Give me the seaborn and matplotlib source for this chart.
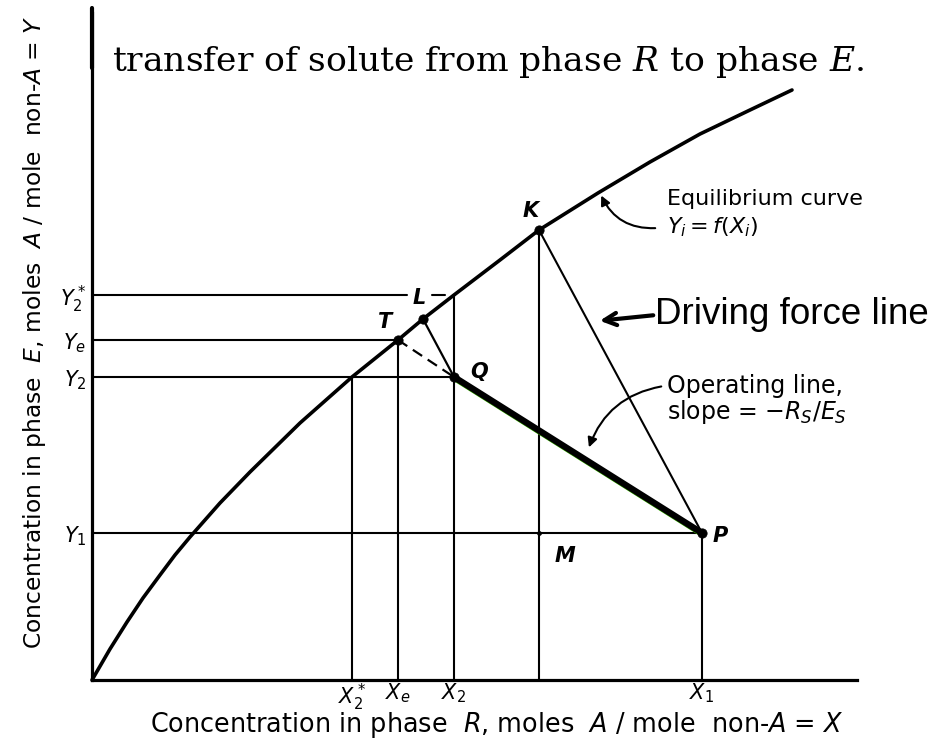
import matplotlib
matplotlib.use("Agg")
import matplotlib.pyplot as plt
import matplotlib.transforms as mtransforms
import seaborn as sns

# Equilibrium curve Y_i = f(X_i)
eq_x = [0.00, 0.18, 0.35, 0.51, 0.68, 0.83, 0.98, 1.28, 1.58, 2.08, 2.60,
        3.06, 3.31, 3.62, 4.08, 4.47, 5.06, 5.58, 6.08, 6.58, 7.00]
eq_y = [0.00, 0.31, 0.58, 0.82, 1.05, 1.25, 1.43, 1.77, 2.08, 2.57, 3.03,
        3.40, 3.61, 3.85, 4.20, 4.50, 4.87, 5.18, 5.46, 5.70, 5.90]

# Concentrations marked on the axes
x_ticks = [2.60, 3.06, 3.62, 6.10]
x_tick_labels = [r"$X_2^*$", r"$X_e$", r"$X_2$", r"$X_1$"]
y_ticks = [3.85, 3.40, 3.03, 1.47]
y_tick_labels = [r"$Y_2^*$", r"$Y_e$", r"$Y_2$", r"$Y_1$"]

# Named points of the construction
point_names = ["T", "L", "Q", "K", "P", "M"]
point_x = [3.06, 3.31, 3.62, 4.47, 6.10, 4.47]
point_y = [3.40, 3.61, 3.03, 4.50, 1.47, 1.47]

sns.set_theme(style="white")
plt.rcParams["font.family"] = ["DejaVu Sans"]
plt.rcParams["mathtext.fontset"] = "custom"
plt.rcParams["mathtext.rm"] = "DejaVu Sans"
plt.rcParams["mathtext.it"] = "DejaVu Sans:italic"
plt.rcParams["mathtext.cal"] = "DejaVu Serif:italic"

W, H = 953, 755
fig = plt.figure(figsize=(W / 100, H / 100), dpi=100)
x0, y0, x_end, y_top = 92, 680, 857, 13
ax = fig.add_axes([x0 / W, (H - y0) / H, (x_end - x0) / W, (y0 - y_top) / H])
ax.set_xlim(0, (x_end - x0) / 100)
ax.set_ylim(0, (y0 - y_top) / 100)
sns.despine(ax=ax)
for s in ("left", "bottom"):
    ax.spines[s].set_linewidth(2.3)
    ax.spines[s].set_color("black")
ax.set_facecolor("white")

P = dict(zip(point_names, zip(point_x, point_y)))
xs2, xe, x2, x1 = x_ticks
ys2, ye, y2, y1 = y_ticks
xk, yk = P["K"]


def seg(xa, ya, xb, yb, lw=1.5, **kw):
    sns.lineplot(x=[xa, xb], y=[ya, yb], ax=ax, color="black", lw=lw,
                 sort=False, estimator=None, clip_on=False, **kw)


# equilibrium curve
sns.lineplot(x=eq_x, y=eq_y, ax=ax, color="black", lw=2.6, sort=False,
             estimator=None, clip_on=False, solid_joinstyle="round")

# horizontal construction lines
seg(0, ys2, 3.15, ys2)
seg(3.40, ys2, 3.53, ys2)
seg(0, ye, xe, ye)
seg(0, y2, x2, y2)
seg(0, y1, x1, y1)
# vertical construction lines
seg(xs2, 0, xs2, y2)
seg(xe, 0, xe, ye)
seg(x2, 0, x2, ys2)
seg(xk, 0, xk, yk)
seg(x1, 0, x1, y1)

# T-Q dashed, L-Q, driving force line K-P
seg(*P["T"], *P["Q"], lw=1.6, linestyle=(0, (5, 3)))
seg(*P["L"], *P["Q"], lw=1.6)
seg(*P["K"], *P["P"], lw=1.5)

# operating line Q-P
shift = mtransforms.offset_copy(ax.transData, fig=fig, x=-0.5, y=-1.6, units="dots")
ax.plot([P["Q"][0], P["P"][0]], [P["Q"][1], P["P"][1]], color="#38b000", lw=3.0,
        transform=shift, solid_capstyle="butt")
seg(*P["Q"], *P["P"], lw=4.6)

# points
sns.scatterplot(x=point_x[:5], y=point_y[:5], ax=ax, color="black", s=45,
                edgecolor="black", clip_on=False, zorder=5)
sns.scatterplot(x=point_x[5:], y=point_y[5:], ax=ax, color="black", s=10,
                edgecolor="black", clip_on=False, zorder=5)

# tick labels
ax.set_xticks(x_ticks, x_tick_labels)
ax.set_yticks(y_ticks, y_tick_labels)
ax.tick_params(axis="both", length=0, labelsize=15, colors="black")
ax.tick_params(axis="x", pad=1)
ax.tick_params(axis="y", pad=4)


def px(xp, yp):
    return ((xp - x0) / 100, (y0 - yp) / 100)


lab = dict(fontsize=15, fontstyle="italic", fontweight="bold", color="black",
           va="center", ha="center")
label_pos = {"T": (385, 322), "L": (419, 298), "Q": (479, 372),
             "K": (531, 211), "P": (720, 536), "M": (565, 556)}
for name in point_names:
    ax.text(*px(*label_pos[name]), name, **lab)

# axis titles
fig.text(497 / W, 1 - 725 / H,
         r"Concentration in phase  $R$, moles  $A$ / mole  non-$A$ = $X$",
         fontsize=18.4, ha="center", va="center", color="black")
fig.text(35 / W, 1 - 332 / H,
         r"Concentration in phase  $E$, moles  $A$ / mole  non-$A$ = $Y$",
         fontsize=16.8, ha="center", va="center", rotation=90, color="black")

# running text line above the chart
fig.text(112 / W, 1 - 62 / H,
         r"transfer of solute from phase $\mathcal{R}$ to phase $\mathcal{E}$.",
         family="DejaVu Serif", fontsize=24.8, ha="left", va="center", color="black")
fig.add_artist(plt.Line2D([x0 / W, x0 / W], [1 - 8 / H, 1 - 68 / H], color="black", lw=3))

# annotations
ann = dict(fontsize=16, ha="left", va="center", color="black")
ax.text(*px(667, 199), "Equilibrium curve", **ann)
ax.text(*px(667, 227), r"$Y_i = f(X_i)$", **ann)
ax.annotate("", xy=px(600, 193), xytext=px(658, 228),
            arrowprops=dict(arrowstyle="-|>", color="black", lw=1.5,
                            connectionstyle="arc3,rad=-0.35", mutation_scale=14))

ann2 = dict(ann, fontsize=17)
ax.text(*px(667, 386), "Operating line,", **ann2)
ax.text(*px(667, 412), r"slope = $-R_S/E_S$", **ann2)
ax.annotate("", xy=px(588, 450), xytext=px(664, 386),
            arrowprops=dict(arrowstyle="-|>", color="black", lw=1.5,
                            connectionstyle="arc3,rad=0.3", mutation_scale=14))

ax.text(*px(655, 315), "Driving force line", family="Liberation Sans",
        fontsize=26.5, ha="left", va="center", color="black")
ax.annotate("", xy=px(597, 321), xytext=px(656, 315),
            arrowprops=dict(arrowstyle="->", color="black", lw=3, mutation_scale=22))

fig.savefig("out.png", dpi=100, facecolor="white")
